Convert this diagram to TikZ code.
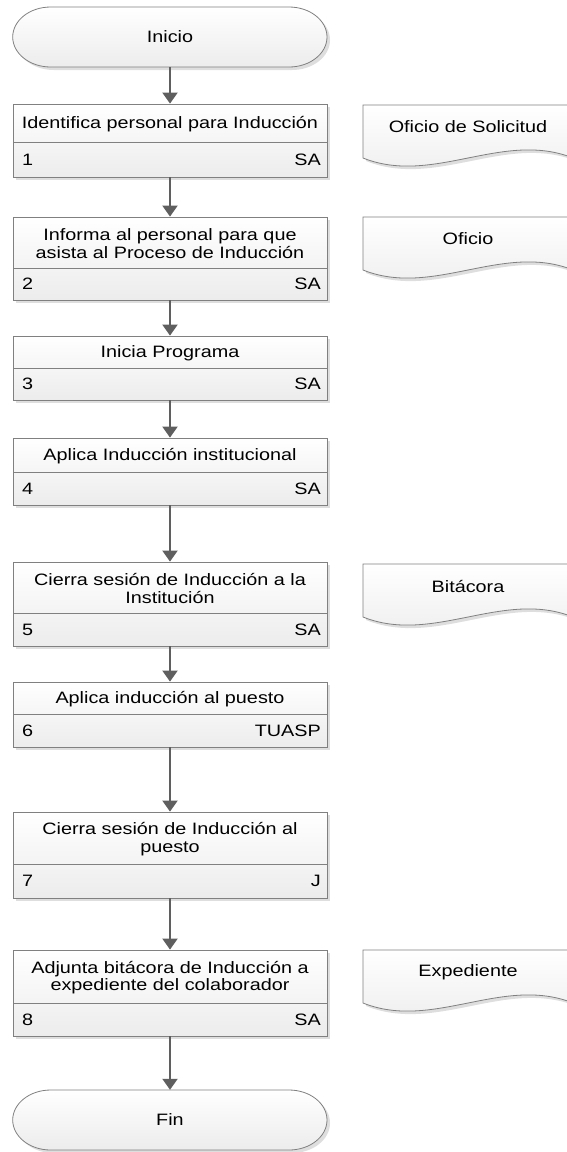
\documentclass[tikz,border=0pt]{standalone}
\usepackage{fontspec}
\setmainfont{Liberation Sans}[FakeStretch=1.2]
\usetikzlibrary{arrows.meta}
\definecolor{edgec}{RGB}{128,128,128}
\definecolor{flowc}{RGB}{95,95,95}
\definecolor{shadec}{RGB}{222,222,222}
\definecolor{fillbot}{RGB}{236,236,236}

% process step: name, top, divider, bottom, title, number, role
\newcommand{\procstep}[7]{%
  \fill[shadec] (16,#2+3) rectangle (330,#4+3);
  \node[boxn, minimum height={(#4-#2)*1pt}] (#1) at (170,{(#2+#4)/2}) {};
  \draw[cell] (13,#3) -- (327,#3);
  \node[txt] (#1t) at (170,{(#2+#3)/2+1}) {#5};
  \node[txt, anchor=west] (#1n) at (22,{(#3+#4)/2}) {#6};
  \node[txt, anchor=east] (#1r) at (321,{(#3+#4)/2}) {#7};
}
% document symbol: name, top, text
\newcommand{\docnote}[3]{%
  \begin{scope}[shift={(0,#2)}]
    \fill[shadec] (366,3) -- (576,3) -- (576,56) .. controls (506,28) and (436,84) .. (366,56) -- cycle;
    \draw[docs] (363,0) -- (573,0) -- (573,53) .. controls (503,25) and (433,81) .. (363,53) -- cycle;
    \node[txt] (#1) at (468,22) {#3};
  \end{scope}
}
% terminator: name, centre y, text
\newcommand{\terminal}[3]{%
  \fill[shadec] (53.7,#2-27) -- (292,#2-27) arc[start angle=90,end angle=-90,x radius=38pt,y radius=30pt] -- (53.7,#2+33) arc[start angle=270,end angle=90,x radius=38pt,y radius=30pt] -- cycle;
  \draw[docs] (50.7,#2-30) -- (289,#2-30) arc[start angle=90,end angle=-90,x radius=38pt,y radius=30pt] -- (50.7,#2+30) arc[start angle=270,end angle=90,x radius=38pt,y radius=30pt] -- cycle;
  \node[txt, minimum width=314pt, minimum height=60pt] (#1) at (170,#2) {#3};
}

\begin{document}
\begin{tikzpicture}[x=1pt,y=-1pt,
  txt/.style={font=\fontsize{16.5}{17.5}\selectfont, inner sep=0pt, align=center, text=black},
  boxn/.style={draw=edgec, line width=0.8pt, top color=white, bottom color=fillbot, minimum width=314pt, inner sep=0pt},
  cell/.style={draw=edgec, line width=0.8pt},
  docs/.style={draw=edgec, line width=0.8pt, top color=white, bottom color=fillbot},
  flow/.style={draw=flowc, line width=2pt, -{Triangle[width=15pt,length=11pt]}}]
\useasboundingbox (0,0) rectangle (567,1152);
\clip (0,0) rectangle (567,1152);

\terminal{ini}{37}{Inicio}

\procstep{b1}{104}{142}{177}{Identifica personal para Inducción}{1}{SA}
\procstep{b2}{217}{268}{300}{Informa al personal para que\\asista al Proceso de Inducción}{2}{SA}
\procstep{b3}{336}{368}{400}{Inicia Programa}{3}{SA}
\procstep{b4}{438}{472}{505}{Aplica Inducción institucional}{4}{SA}
\procstep{b5}{562}{613}{646}{Cierra sesión de Inducción a la\\Institución}{5}{SA}
\procstep{b6}{682}{714}{747}{Aplica inducción al puesto}{6}{TUASP}
\procstep{b7}{812}{864}{898}{Cierra sesión de Inducción al\\puesto}{7}{J}
\procstep{b8}{950}{1003}{1036}{Adjunta bitácora de Inducción a\\expediente del colaborador}{8}{SA}

\terminal{fin}{1120}{Fin}

\docnote{d1}{105}{Oficio de Solicitud}
\docnote{d2}{217}{Oficio}
\docnote{d5}{564}{Bitácora}
\docnote{d8}{950}{Expediente}

\draw[flow] (ini.south) -- (b1.north);
\draw[flow] (b1.south) -- (b2.north);
\draw[flow] (b2.south) -- (b3.north);
\draw[flow] (b3.south) -- (b4.north);
\draw[flow] (b4.south) -- (b5.north);
\draw[flow] (b5.south) -- (b6.north);
\draw[flow] (b6.south) -- (b7.north);
\draw[flow] (b7.south) -- (b8.north);
\draw[flow] (b8.south) -- (fin.north);
\end{tikzpicture}
\end{document}
